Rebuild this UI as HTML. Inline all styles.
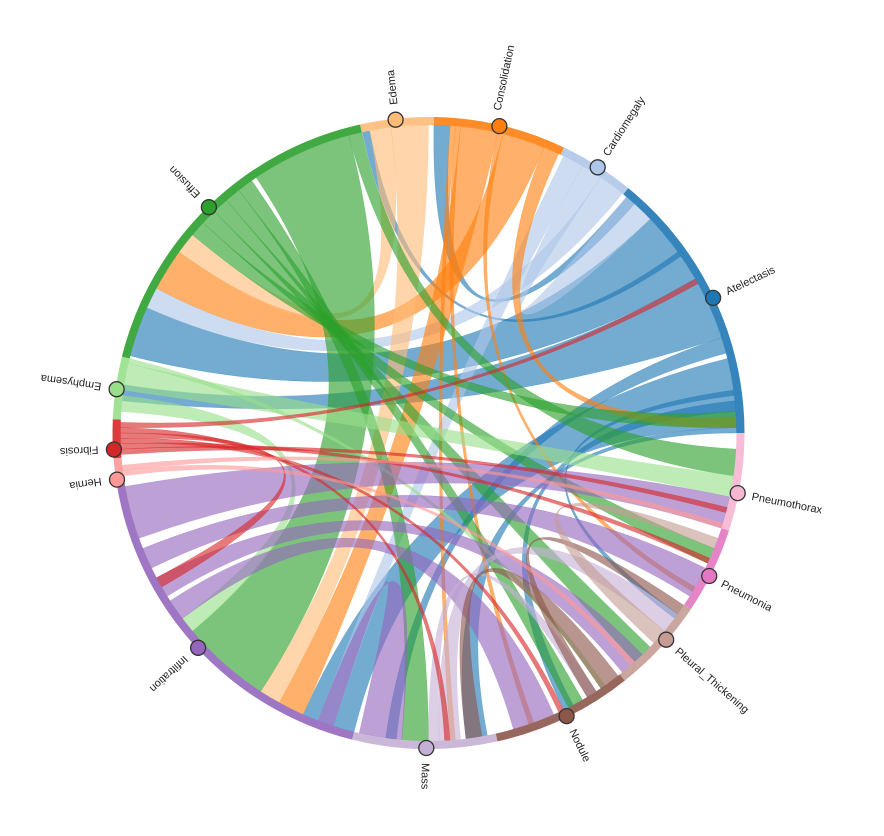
<!DOCTYPE html>
<html><head><meta charset="utf-8"><style>
html,body{margin:0;padding:0;background:#fff;width:884px;height:836px;overflow:hidden}
svg{display:block}
text{font-family:"Liberation Sans",sans-serif;font-size:11px;fill:#222}
</style></head><body>
<svg id="s" width="884" height="836" viewBox="0 0 884 836">
<g id="chords"></g><g id="ring"></g><g id="marks"></g>
<g id="labels">
<text transform="translate(428,433) rotate(-96) translate(330,0)" dy="4">Edema</text>
<text transform="translate(428,433) rotate(-78) translate(330,0)" dy="4">Consolidation</text>
<text transform="translate(428,433) rotate(-57.5) translate(330,0)" dy="4">Cardiomegaly</text>
<text transform="translate(428,433) rotate(-25.4) translate(330,0)" dy="4">Atelectasis</text>
<text transform="translate(428,433) rotate(11) translate(330,0)" dy="4">Pneumothorax</text>
<text transform="translate(428,433) rotate(27) translate(330,0)" dy="4">Pneumonia</text>
<text transform="translate(428,433) rotate(41) translate(330,0)" dy="4">Pleural_Thickening</text>
<text transform="translate(428,433) rotate(64) translate(330,0)" dy="4">Nodule</text>
<text transform="translate(428,433) rotate(90.4) translate(330,0)" dy="4">Mass</text>
<text transform="translate(428,433) rotate(137) translate(330,0)" dy="4">Infiltration</text>
<text transform="translate(428,433) rotate(171.5) translate(330,0)" dy="4">Hernia</text>
<text transform="translate(428,433) rotate(177) translate(330,0)" dy="4">Fibrosis</text>
<text transform="translate(428,433) rotate(188) translate(330,0)" dy="4">Emphysema</text>
<text transform="translate(428,433) rotate(225.8) translate(330,0)" dy="4">Effusion</text>
</g>
</svg>
<script>
var cx=428.5,cy=433,R=308,RO=316;
function p(a,r){var t=a*Math.PI/180;return (cx+r*Math.cos(t)).toFixed(1)+","+(cy+r*Math.sin(t)).toFixed(1);}
var groups=[
["#1f77b4",-50.8,0,-25.4],["#f7b6d2",0,18,11],["#e377c2",18,33.9,27],["#c49c94",33.9,51.6,41],
["#8c564b",51.6,77.4,64],["#c5b0d5",77.4,104,90.4],["#9467bd",104,171.4,137],["#ff9896",171.4,175.4,171.5],
["#d62728",175.4,182.5,177],["#98df8a",182.5,194,188],["#2ca02c",194,257.5,225.8],["#ffbb78",257.5,271,264],
["#ff7f0e",271,295.4,283],["#aec7e8",295.4,309.2,302.5]];
var ring="",marks="";
groups.forEach(function(g){
 var lg=(g[2]-g[1])>180?1:0;
 ring+='<path fill="'+g[0]+'" fill-opacity="0.9" d="M'+p(g[1],RO)+'A'+RO+','+RO+' 0 '+lg+' 1 '+p(g[2],RO)+'L'+p(g[2],R)+'A'+R+','+R+' 0 '+lg+' 0 '+p(g[1],R)+'Z"/>';
 var q=p(g[3],315).split(",");
 marks+='<circle cx="'+q[0]+'" cy="'+q[1]+'" r="7.5" fill="'+g[0]+'" stroke="#333" stroke-width="1.3"/>';
});
var C=[
["#1f77b4",-44,-30,194.5,204],
["#1f77b4",-14,-1,104,114],
["#1f77b4",-30,-18,186,189],
["#1f77b4",-50,-48,271,274],
["#1f77b4",-36,-35,257.6,259],
["#1f77b4",-1,0,79,83],
["#1f77b4",-6,-4,62,64],
["#1f77b4",-8,-7,36,37],
["#1f77b4",-18,-15,96,98],
["#aec7e8",304,309,204,208],
["#aec7e8",296,300,108,111],
["#aec7e8",300,304,-50,-44],
["#ff7f0e",284,292,208,216],
["#ff7f0e",276,283,114,119],
["#ff7f0e",292,295,-3,-1],
["#ff7f0e",274,275,85,86],
["#ff7f0e",275,276,70,71],
["#ff7f0e",283,284,30,31],
["#ffbb78",263,270,119,123],
["#ffbb78",259,263,216,220],
["#2ca02c",236,255,123,140],
["#2ca02c",255,257.5,3,8],
["#2ca02c",232,235,90,95],
["#2ca02c",229,232,60,63],
["#2ca02c",226,229,44,48],
["#2ca02c",223,226,22,25],
["#2ca02c",220,223,-4,-1],
["#98df8a",188,193,8,12],
["#98df8a",184,187,140,143],
["#98df8a",193,194,55,56],
["#9467bd",160,170,12,18],
["#9467bd",154,158,26,32],
["#9467bd",148,152,46,51],
["#9467bd",143,147,66,74],
["#9467bd",108,111,95,103],
["#c5b0d5",84,88,36,40],
["#c5b0d5",88,90,57,59],
["#8c564b",52,56,80,83],
["#8c564b",57,59,34,36],
["#c49c94",40,43,20,22],
["#d62728",176,177,14,15],
["#d62728",177,178,24,25],
["#d62728",178,179,64,65],
["#d62728",179,180,150,152],
["#d62728",180,181,86,87],
["#d62728",181,182,-30,-29],
["#ff9896",172,173,48,49],
["#ff9896",173,174,17,18]
];
var ch="";
C.forEach(function(c){
 ch+='<path fill="'+c[0]+'" fill-opacity="0.62" stroke="'+c[0]+'" stroke-opacity="0.4" stroke-width="0.5" d="M'+p(c[1],R)+'A'+R+','+R+' 0 0 1 '+p(c[2],R)+'Q'+cx+','+cy+' '+p(c[3],R)+'A'+R+','+R+' 0 0 1 '+p(c[4],R)+'Q'+cx+','+cy+' '+p(c[1],R)+'Z"/>';
});
document.getElementById("chords").innerHTML=ch;
document.getElementById("ring").innerHTML=ring;
document.getElementById("marks").innerHTML=marks;
</script>
</body></html>
